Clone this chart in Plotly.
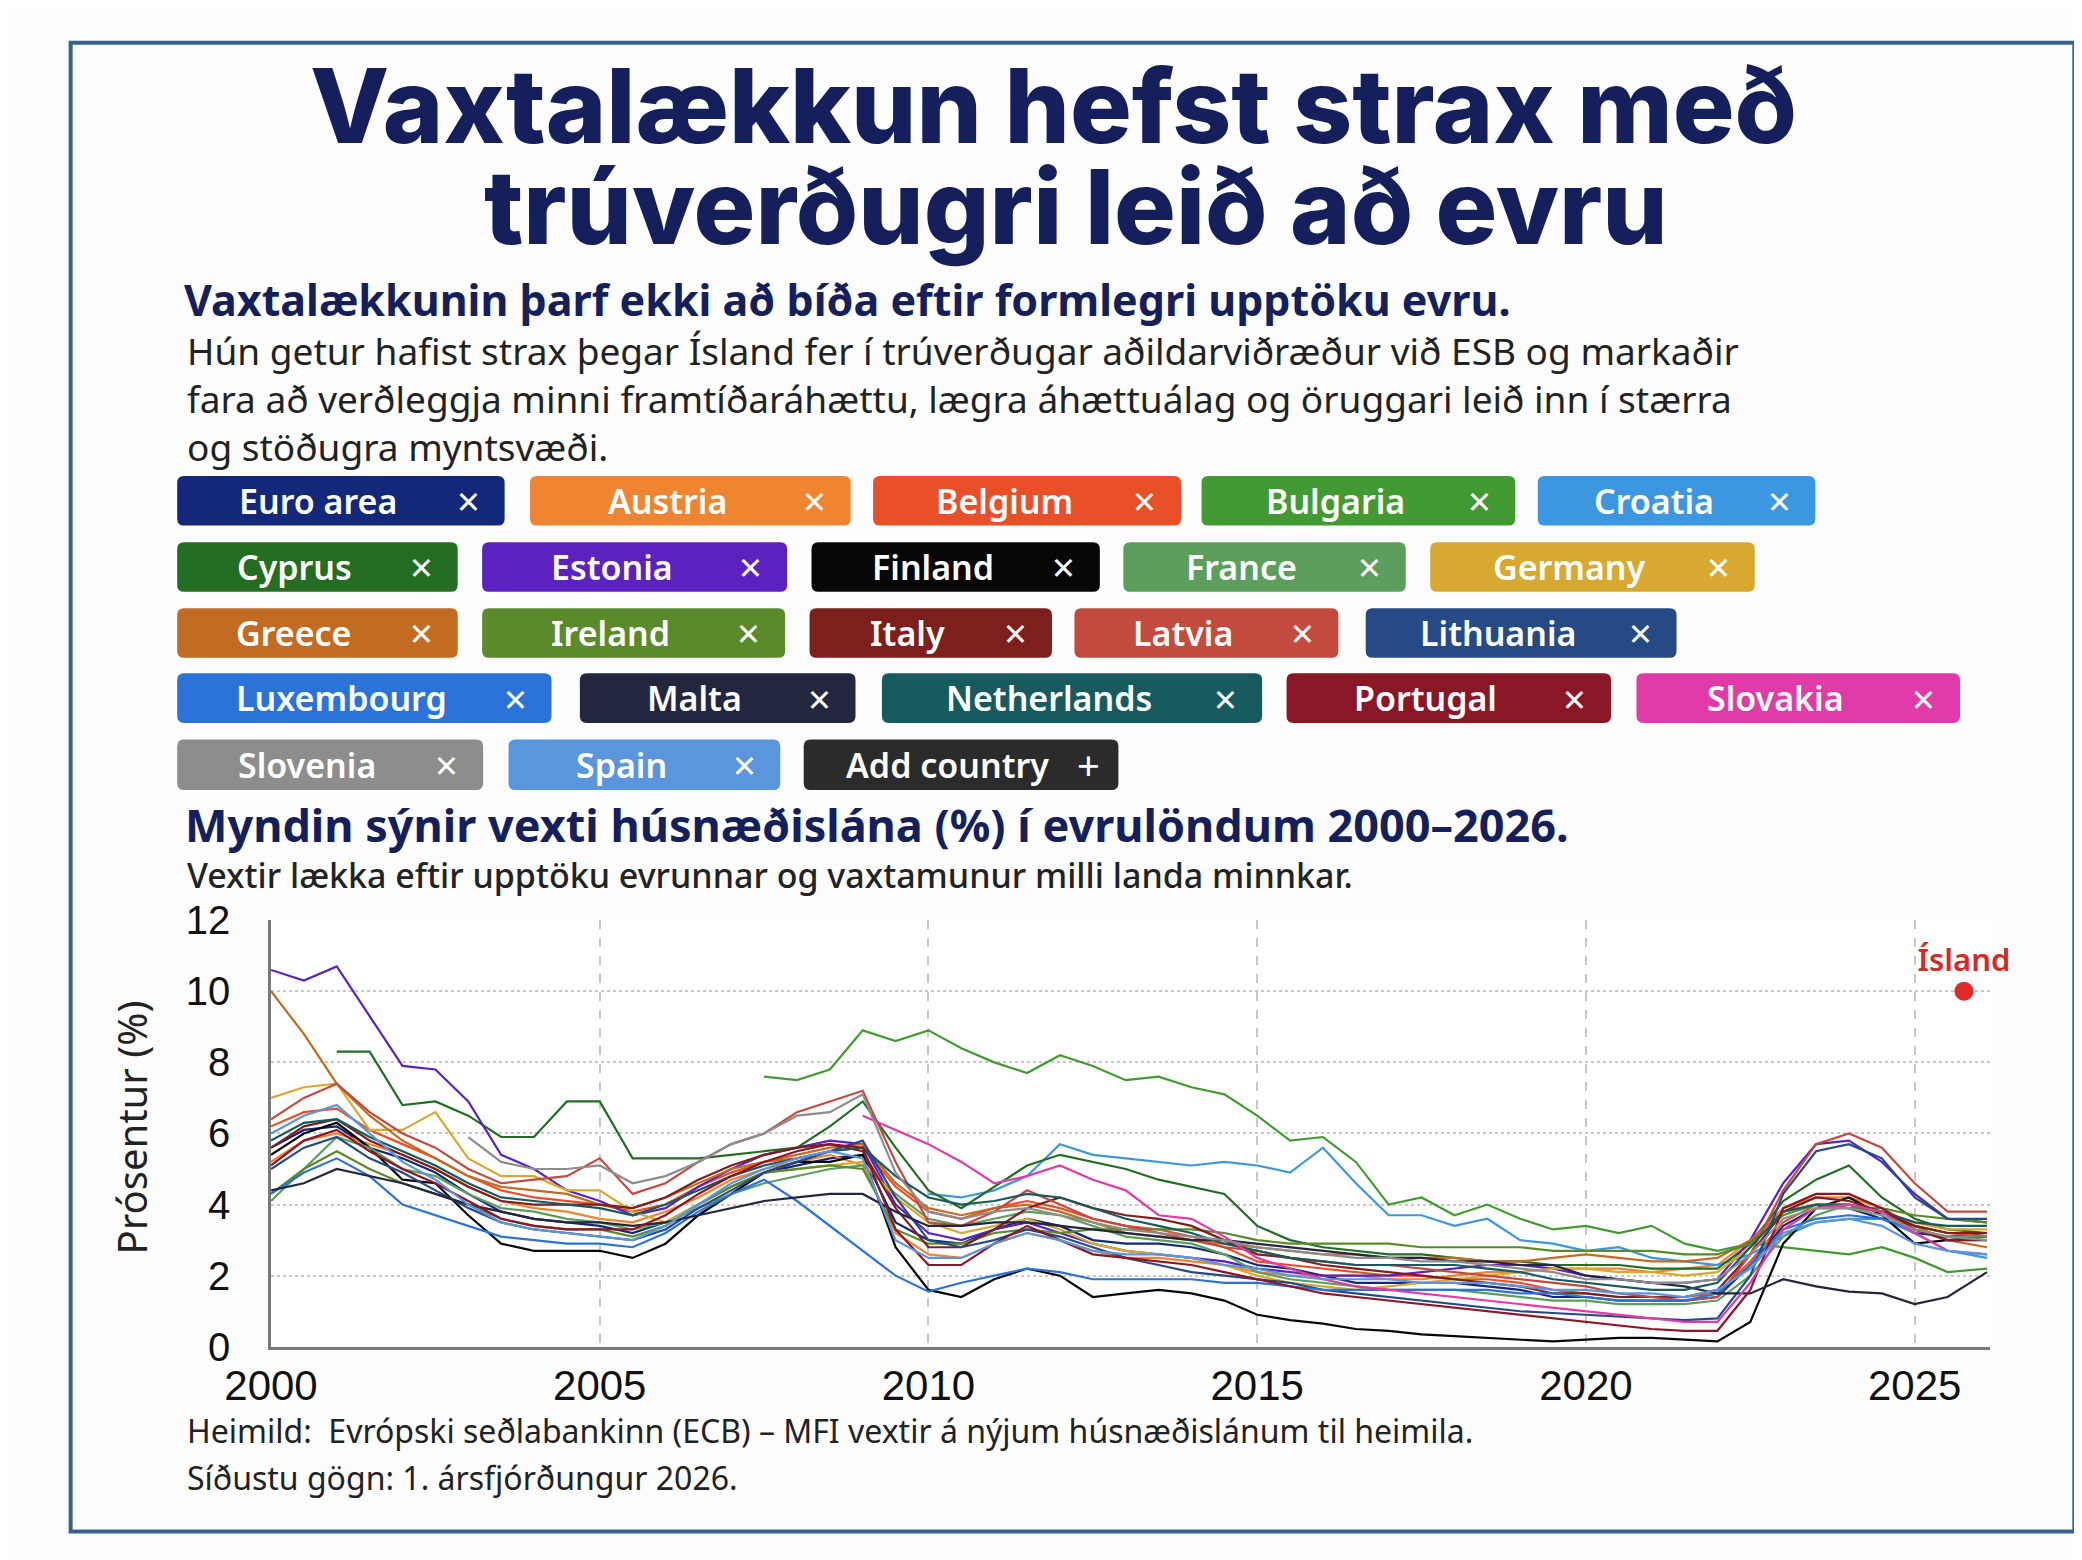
import plotly.graph_objects as go

W, H = 2082, 1560

# semi-annual observation dates, last point is Q1 2026
YEARS = [2000 + 0.5 * i for i in range(52)] + [2026.1]

EURO_AREA = [5.6, 6.1, 6.2, 5.6, 5.3, 4.9, 4.3, 3.8, 3.6, 3.5,
             3.4, 3.2, 3.5, 4.0, 4.5, 4.9, 5.1, 5.3, 5.4, 3.5,
             3.0, 2.9, 3.3, 3.6, 3.4, 3.0, 2.9, 2.9, 2.8, 2.6,
             2.3, 2.2, 2.0, 1.8, 1.8, 1.8, 1.8, 1.7, 1.6, 1.4,
             1.4, 1.3, 1.3, 1.3, 1.4, 2.3, 3.4, 3.9, 3.9, 3.6,
             3.2, 3.1, 3.2]
AUSTRIA = [5.2, 5.8, 6.0, 5.7, 5.4, 5.0, 4.5, 4.1, 3.9, 3.8,
           3.6, 3.5, 3.8, 4.2, 4.7, 5.0, 5.2, 5.4, 5.1, 3.2,
           2.6, 2.5, 2.9, 3.2, 3.0, 2.7, 2.5, 2.5, 2.4, 2.3,
           2.1, 2.0, 2.0, 2.0, 1.9, 1.9, 2.0, 2.1, 2.1, 2.2,
           2.2, 2.2, 2.1, 2.2, 2.3, 3.0, 3.9, 4.2, 4.2, 3.9,
           3.4, 3.2, 3.2]
BELGIUM = [6.2, 6.6, 6.7, 6.1, 5.7, 5.3, 4.8, 4.4, 4.2, 4.1,
           4.0, 3.8, 4.0, 4.5, 4.9, 5.2, 5.3, 5.5, 5.6, 4.5,
           3.8, 3.6, 3.9, 4.1, 3.9, 3.6, 3.4, 3.3, 3.1, 2.8,
           2.4, 2.3, 2.2, 2.1, 2.0, 2.0, 1.9, 1.9, 1.8, 1.6,
           1.5, 1.4, 1.4, 1.4, 1.5, 2.4, 3.5, 4.0, 4.0, 3.8,
           3.4, 3.2, 3.1]
BULGARIA = [None] * 15 + [7.6, 7.5, 7.8, 8.9, 8.6,
            8.9, 8.4, 8.0, 7.7, 8.2, 7.9, 7.5, 7.6, 7.3, 7.1,
            6.5, 5.8, 5.9, 5.2, 4.0, 4.2, 3.7, 4.0, 3.6, 3.3,
            3.4, 3.2, 3.4, 2.9, 2.7, 2.9, 2.8, 2.7, 2.6, 2.8,
            2.5, 2.1, 2.2]
CROATIA = [None] * 20 + [4.3, 4.2, 4.4, 4.8, 5.7, 5.4, 5.3, 5.2, 5.1, 5.2,
           5.1, 4.9, 5.6, 4.6, 3.7, 3.7, 3.4, 3.6, 3.0, 2.9,
           2.7, 2.8, 2.5, 2.4, 2.3, 2.6, 3.1, 3.5, 3.6, 3.6,
           3.2, 2.7, 2.5]
CYPRUS = [None, None, 8.3, 8.3, 6.8, 6.9, 6.5, 5.9, 5.9, 6.9,
          6.9, 5.3, 5.3, 5.3, 5.4, 5.5, 5.6, 6.2, 6.9, 5.6,
          4.4, 3.9, 4.5, 5.1, 5.4, 5.2, 5.0, 4.7, 4.5, 4.3,
          3.4, 3.0, 2.8, 2.7, 2.6, 2.6, 2.5, 2.4, 2.4, 2.3,
          2.3, 2.3, 2.2, 2.2, 2.2, 2.9, 4.1, 4.7, 5.1, 4.2,
          3.6, 3.3, 3.2]
ESTONIA = [10.6, 10.3, 10.7, 9.3, 7.9, 7.8, 6.9, 5.4, 5.0, 4.4,
           4.1, 3.7, 3.9, 4.5, 5.0, 5.4, 5.6, 5.8, 5.7, 4.0,
           3.2, 3.0, 3.3, 3.5, 3.2, 2.9, 2.7, 2.6, 2.5, 2.4,
           2.2, 2.1, 2.0, 2.0, 2.0, 2.1, 2.2, 2.3, 2.3, 2.2,
           2.0, 1.9, 1.8, 1.8, 1.9, 3.0, 4.6, 5.7, 5.8, 5.2,
           4.3, 3.6, 3.5]
FINLAND = [5.4, 6.0, 6.3, 5.6, 4.7, 4.6, 3.7, 2.9, 2.7, 2.7,
           2.7, 2.5, 2.9, 3.7, 4.3, 4.9, 5.2, 5.2, 5.4, 2.8,
           1.6, 1.4, 1.9, 2.2, 2.0, 1.4, 1.5, 1.6, 1.5, 1.3,
           0.9, 0.75, 0.65, 0.5, 0.45, 0.35, 0.3, 0.25, 0.2, 0.15,
           0.2, 0.25, 0.25, 0.2, 0.15, 0.7, 2.9, 3.9, 4.2, 3.7,
           2.9, 3.0, 3.1]
FRANCE = [4.1, 5.0, 5.9, 5.6, 5.0, 4.8, 4.3, 3.9, 3.8, 3.6,
          3.5, 3.3, 3.5, 3.9, 4.3, 4.6, 4.8, 5.0, 5.1, 4.3,
          3.6, 3.4, 3.6, 3.8, 3.7, 3.4, 3.1, 3.0, 2.9, 2.6,
          2.1, 1.9, 1.8, 1.7, 1.6, 1.6, 1.6, 1.5, 1.4, 1.3,
          1.3, 1.2, 1.2, 1.2, 1.3, 2.0, 3.1, 3.7, 4.0, 3.8,
          3.3, 3.1, 3.1]
GERMANY = [7.0, 7.3, 7.4, 6.1, 6.1, 6.6, 5.3, 4.8, 4.8, 4.4,
           4.4, 3.8, 3.5, 4.0, 4.5, 4.9, 5.0, 5.1, 5.2, 4.2,
           3.5, 3.2, 3.4, 3.6, 3.3, 2.9, 2.7, 2.6, 2.5, 2.3,
           2.0, 1.8, 1.7, 1.6, 1.7, 1.8, 1.9, 2.0, 2.1, 2.2,
           2.2, 2.1, 2.1, 2.0, 2.1, 2.8, 3.8, 4.0, 4.0, 3.8,
           3.5, 3.3, 3.3]
GREECE = [10.0, 8.8, 7.4, 6.5, 5.8, 5.3, 4.8, 4.5, 4.4, 4.3,
          4.0, 3.9, 4.2, 4.6, 5.0, 5.2, 5.4, 5.6, 5.7, 4.6,
          3.9, 3.7, 3.9, 4.0, 3.8, 3.5, 3.2, 3.1, 3.0, 2.9,
          2.8, 2.7, 2.6, 2.6, 2.5, 2.5, 2.5, 2.4, 2.4, 2.5,
          2.6, 2.5, 2.4, 2.4, 2.5, 3.0, 3.8, 4.0, 3.9, 3.8,
          3.4, 3.0, 2.8]
IRELAND = [4.3, 5.0, 5.5, 5.0, 4.6, 4.3, 4.0, 3.6, 3.4, 3.3,
           3.3, 3.1, 3.4, 4.0, 4.5, 4.9, 5.0, 5.1, 5.0, 3.3,
           2.9, 2.9, 3.2, 3.3, 3.2, 3.3, 3.3, 3.3, 3.3, 3.2,
           3.0, 2.9, 2.9, 2.9, 2.9, 2.8, 2.8, 2.8, 2.8, 2.7,
           2.7, 2.7, 2.7, 2.6, 2.6, 2.9, 3.7, 4.0, 3.9, 3.9,
           3.7, 3.6, 3.5]
ITALY = [5.6, 6.2, 6.4, 5.8, 5.4, 5.0, 4.5, 4.1, 4.0, 4.0,
         4.0, 3.9, 4.2, 4.7, 5.1, 5.4, 5.6, 5.7, 5.5, 3.9,
         2.8, 2.8, 3.3, 3.9, 4.2, 3.9, 3.7, 3.6, 3.4, 3.0,
         2.6, 2.5, 2.3, 2.2, 2.1, 2.0, 1.9, 1.8, 1.7, 1.5,
         1.5, 1.4, 1.4, 1.4, 1.6, 2.6, 3.8, 4.2, 4.1, 3.8,
         3.4, 3.2, 3.2]
LATVIA = [6.4, 7.0, 7.4, 6.6, 6.0, 5.6, 5.0, 4.6, 4.7, 4.8,
          5.3, 4.3, 4.6, 5.2, 5.7, 6.0, 6.6, 6.9, 7.2, 5.2,
          3.5, 3.4, 3.8, 4.4, 4.0, 3.6, 3.4, 3.2, 3.0, 2.8,
          2.7, 2.5, 2.4, 2.3, 2.3, 2.2, 2.1, 2.0, 1.9, 1.8,
          1.7, 1.5, 1.4, 1.3, 1.4, 2.6, 4.4, 5.7, 6.0, 5.6,
          4.6, 3.8, 3.8]
LITHUANIA = [5.0, 5.6, 5.9, 5.3, 4.9, 4.4, 3.9, 3.5, 3.3, 3.2,
             3.1, 3.0, 3.3, 3.9, 4.4, 4.9, 5.2, 5.5, 5.8, 4.2,
             3.0, 2.8, 3.0, 3.3, 3.1, 2.8, 2.5, 2.3, 2.1, 2.0,
             1.9, 1.8, 1.6, 1.5, 1.4, 1.3, 1.2, 1.1, 1.0, 0.95,
             0.9, 0.85, 0.8, 0.75, 0.8, 2.0, 4.3, 5.5, 5.7, 5.3,
             4.2, 3.6, 3.6]
LUXEMBOURG = [4.3, 4.9, 5.3, 4.8, 4.0, 3.7, 3.4, 3.1, 3.0, 2.9,
              2.9, 2.8, 3.2, 3.8, 4.3, 4.7, 4.1, 3.4, 2.7, 2.0,
              1.55, 1.8, 2.0, 2.2, 2.1, 1.9, 1.9, 1.9, 1.9, 1.8,
              1.8, 1.7, 1.6, 1.6, 1.6, 1.6, 1.6, 1.6, 1.5, 1.5,
              1.4, 1.3, 1.3, 1.3, 1.5, 2.3, 3.3, 3.6, 3.7, 3.6,
              3.3, 3.0, 3.0]
MALTA = [4.4, 4.6, 5.0, 4.8, 4.6, 4.3, 4.0, 3.8, 3.6, 3.5,
         3.5, 3.4, 3.5, 3.7, 3.9, 4.1, 4.2, 4.3, 4.3, 3.8,
         3.4, 3.4, 3.5, 3.5, 3.4, 3.3, 3.2, 3.1, 3.0, 3.0,
         2.9, 2.8, 2.7, 2.6, 2.5, 2.5, 2.4, 2.4, 2.3, 2.3,
         2.0, 1.9, 1.8, 1.7, 1.5, 1.5, 1.9, 1.7, 1.55, 1.5,
         1.2, 1.4, 2.1]
NETHERLANDS = [5.8, 6.3, 6.4, 5.9, 5.5, 5.1, 4.6, 4.2, 4.1, 4.0,
               3.9, 3.7, 4.0, 4.4, 4.8, 5.1, 5.3, 5.5, 5.6, 4.8,
               4.2, 4.0, 4.1, 4.3, 4.2, 3.9, 3.6, 3.4, 3.2, 2.9,
               2.7, 2.5, 2.4, 2.3, 2.3, 2.3, 2.3, 2.2, 2.1, 1.9,
               1.8, 1.7, 1.6, 1.6, 1.8, 2.8, 3.8, 4.0, 4.0, 3.8,
               3.5, 3.4, 3.4]
PORTUGAL = [5.1, 5.8, 6.1, 5.5, 5.0, 4.6, 4.1, 3.6, 3.4, 3.3,
            3.3, 3.3, 3.7, 4.3, 4.8, 5.2, 5.5, 5.7, 5.6, 3.3,
            2.3, 2.3, 2.9, 3.4, 3.0, 2.6, 2.5, 2.4, 2.3, 2.1,
            1.9, 1.7, 1.5, 1.4, 1.3, 1.2, 1.1, 1.0, 0.9, 0.8,
            0.7, 0.6, 0.5, 0.45, 0.45, 1.6, 3.9, 4.3, 4.3, 3.9,
            3.3, 3.0, 3.0]
SLOVAKIA = [None] * 18 + [6.5, 6.1,
            5.7, 5.2, 4.6, 4.8, 5.1, 4.7, 4.4, 3.7, 3.6, 3.1,
            2.5, 2.2, 1.9, 1.7, 1.6, 1.5, 1.4, 1.3, 1.2, 1.1,
            1.0, 0.9, 0.8, 0.7, 0.7, 1.8, 3.3, 3.9, 4.0, 3.8,
            3.2, 2.7, 2.6]
SLOVENIA = [None] * 6 + [5.9, 5.2, 5.0, 5.0,
            5.1, 4.6, 4.8, 5.2, 5.7, 6.0, 6.5, 6.6, 7.1, 4.9,
            3.8, 3.6, 3.8, 3.9, 3.7, 3.5, 3.3, 3.2, 3.1, 3.0,
            2.8, 2.7, 2.6, 2.5, 2.5, 2.4, 2.4, 2.3, 2.2, 2.1,
            1.9, 1.9, 1.8, 1.8, 1.9, 2.6, 3.6, 3.9, 3.9, 3.7,
            3.3, 3.1, 3.0]
SPAIN = [6.0, 6.5, 6.8, 6.0, 5.2, 4.7, 4.0, 3.5, 3.3, 3.2,
         3.1, 3.0, 3.4, 4.0, 4.6, 5.0, 5.3, 5.5, 5.3, 3.0,
         2.5, 2.5, 2.9, 3.2, 3.0, 2.7, 2.6, 2.6, 2.5, 2.3,
         2.2, 2.0, 1.9, 1.9, 1.9, 1.8, 1.8, 1.8, 1.7, 1.6,
         1.6, 1.5, 1.5, 1.4, 1.6, 2.2, 3.2, 3.5, 3.6, 3.4,
         2.9, 2.7, 2.6]

ICELAND_YEAR = [2025.75]
ICELAND_RATE = [10.0]

COUNTRIES = ["Euro area", "Austria", "Belgium", "Bulgaria", "Croatia",
             "Cyprus", "Estonia", "Finland", "France", "Germany",
             "Greece", "Ireland", "Italy", "Latvia", "Lithuania",
             "Luxembourg", "Malta", "Netherlands", "Portugal", "Slovakia",
             "Slovenia", "Spain"]
COLORS = ["#13287a", "#ef8530", "#e9502a", "#449a32", "#3d97e0",
          "#236e22", "#5b22c0", "#070707", "#5c9e5c", "#d8a931",
          "#c26b22", "#5b8a2b", "#7c1f1d", "#c24a3e", "#264a86",
          "#2b72d9", "#23263f", "#175b5e", "#8b1626", "#e03ba8",
          "#8d8d8d", "#5b96dd"]
SERIES = [EURO_AREA, AUSTRIA, BELGIUM, BULGARIA, CROATIA,
          CYPRUS, ESTONIA, FINLAND, FRANCE, GERMANY,
          GREECE, IRELAND, ITALY, LATVIA, LITHUANIA,
          LUXEMBOURG, MALTA, NETHERLANDS, PORTUGAL, SLOVAKIA,
          SLOVENIA, SPAIN]

# chip layout in pixels: (row top, row bottom) and (left, right) per chip
CHIP_ROWS = [(459, 510), (527, 578), (595, 646), (662, 713), (730, 782)]
CHIP_SPANS = [
    [(125, 460), (486, 814), (837, 1152), (1173, 1494), (1517, 1801)],
    [(125, 412), (437, 749), (774, 1069), (1093, 1382), (1407, 1739)],
    [(125, 412), (437, 747), (772, 1020), (1043, 1313), (1341, 1659)],
    [(125, 508), (537, 819), (846, 1235), (1260, 1592), (1618, 1949)],
    [(125, 438), (464, 742)],
]
ADD_CHIP = (766, 1088)

NAVY = "#151f5c"
TEXT = "#222222"


def fx(x):
    return x / W


def fy(y):
    return 1 - y / H


def rounded(x0, y0, x1, y1, r=7):
    a, b, c, d = fx(x0), fy(y1), fx(x1), fy(y0)
    rx, ry = r / W, r / H
    return (f"M {a + rx},{b} L {c - rx},{b} Q {c},{b} {c},{b + ry} "
            f"L {c},{d - ry} Q {c},{d} {c - rx},{d} L {a + rx},{d} "
            f"Q {a},{d} {a},{d - ry} L {a},{b + ry} Q {a},{b} {a + rx},{b} Z")


fig = go.Figure()

for name, color, vals in zip(COUNTRIES, COLORS, SERIES):
    fig.add_trace(go.Scatter(x=YEARS, y=vals, mode="lines", name=name,
                             line=dict(color=color, width=2.2)))

fig.add_trace(go.Scatter(x=ICELAND_YEAR, y=ICELAND_RATE, mode="markers+text",
                         text=["Ísland"], textposition="top center",
                         textfont=dict(family="Noto Sans", size=31, color="#d42a2a", weight=600),
                         marker=dict(color="#e02a2a", size=19), name="Ísland",
                         cliponaxis=False))

shapes = []
annotations = []

# outer frame
shapes.append(dict(type="rect", xref="paper", yref="paper",
                   x0=fx(16), x1=fx(2066), y0=fy(1545), y1=fy(13),
                   line=dict(color="#34628a", width=4), layer="below"))


def label(text, x, y, size, color=TEXT, weight=400, family="Noto Sans", anchor="left", angle=0):
    annotations.append(dict(x=fx(x), y=fy(y), xref="paper", yref="paper",
                            text=text, showarrow=False, align="left",
                            xanchor=anchor, yanchor="middle", textangle=angle,
                            font=dict(family=family, size=size, color=color, weight=weight)))


# country chips
k = 0
for (top, bot), spans in zip(CHIP_ROWS, CHIP_SPANS):
    for (x0, x1) in spans:
        shapes.append(dict(type="path", xref="paper", yref="paper",
                           path=rounded(x0, top, x1, bot), fillcolor=COLORS[k],
                           line=dict(width=0)))
        xc = x1 - 37
        label(COUNTRIES[k], (x0 + xc) / 2 - 5, (top + bot) / 2, 34, "white", 600, anchor="center")
        label("×", xc, (top + bot) / 2, 40, "white", 400, anchor="center")
        k += 1

top, bot = CHIP_ROWS[4]
x0, x1 = ADD_CHIP
shapes.append(dict(type="path", xref="paper", yref="paper",
                   path=rounded(x0, top, x1, bot), fillcolor="#2b2b2b", line=dict(width=0)))
label("Add country", 913, (top + bot) / 2, 34, "white", 600, anchor="center")
label("+", 1057, (top + bot) / 2, 40, "white", 400, anchor="center")

label("Vaxtalækkun hefst strax með", 1022, 78, 103, NAVY, 800, "Inter", "center")
label("trúverðugri leið að evru", 1045, 182, 103, NAVY, 800, "Inter", "center")
label("Vaxtalækkunin þarf ekki að bíða eftir formlegri upptöku evru.", 130, 277, 43, NAVY, 700)
label("Hún getur hafist strax þegar Ísland fer í trúverðugar aðildarviðræður við ESB og markaðir"
      "<br>fara að verðleggja minni framtíðaráhættu, lægra áhættuálag og öruggari leið inn í stærra"
      "<br>og stöðugra myntsvæði.", 133, 379, 37)
label("Myndin sýnir vexti húsnæðislána (%) í evrulöndum 2000–2026.", 131, 818, 45, NAVY, 700)
label("Vextir lækka eftir upptöku evrunnar og vaxtamunur milli landa minnkar.", 133, 870, 34, TEXT, 500)
label("Prósentur (%)", 78, 1129, 40, TEXT, 400, "Noto Sans", "center", -90)
label("Heimild:  Evrópski seðlabankinn (ECB) – MFI vextir á nýjum húsnæðislánum til heimila.",
      133, 1441, 32)
label("Síðustu gögn: 1. ársfjórðungur 2026.", 133, 1490, 32)

fig.update_layout(
    width=W, height=H,
    margin=dict(l=0, r=0, t=0, b=0),
    paper_bgcolor="#fdfdfd", plot_bgcolor="#ffffff",
    showlegend=False,
    shapes=shapes, annotations=annotations,
    xaxis=dict(domain=[fx(221), fx(1980)], range=[2000, 2026.15],
               tickvals=[2000, 2005, 2010, 2015, 2020, 2025],
               showgrid=True, gridcolor="#c8c8c8", griddash="dash", gridwidth=1.5,
               showline=True, linecolor="#777777", linewidth=2.5, zeroline=False,
               ticks="", ticklabelstandoff=0,
               tickfont=dict(family="Liberation Sans", size=42, color="#111111")),
    yaxis=dict(domain=[fy(1355), fy(916)], range=[0, 12],
               tickvals=[0, 2, 4, 6, 8, 10, 12],
               showgrid=True, gridcolor="#c8c8c8", griddash="dot", gridwidth=2,
               showline=True, linecolor="#777777", linewidth=2.5, zeroline=False,
               ticks="", ticklabelstandoff=30,
               tickfont=dict(family="Liberation Sans", size=40, color="#111111")),
)

fig.write_html("out.html")
